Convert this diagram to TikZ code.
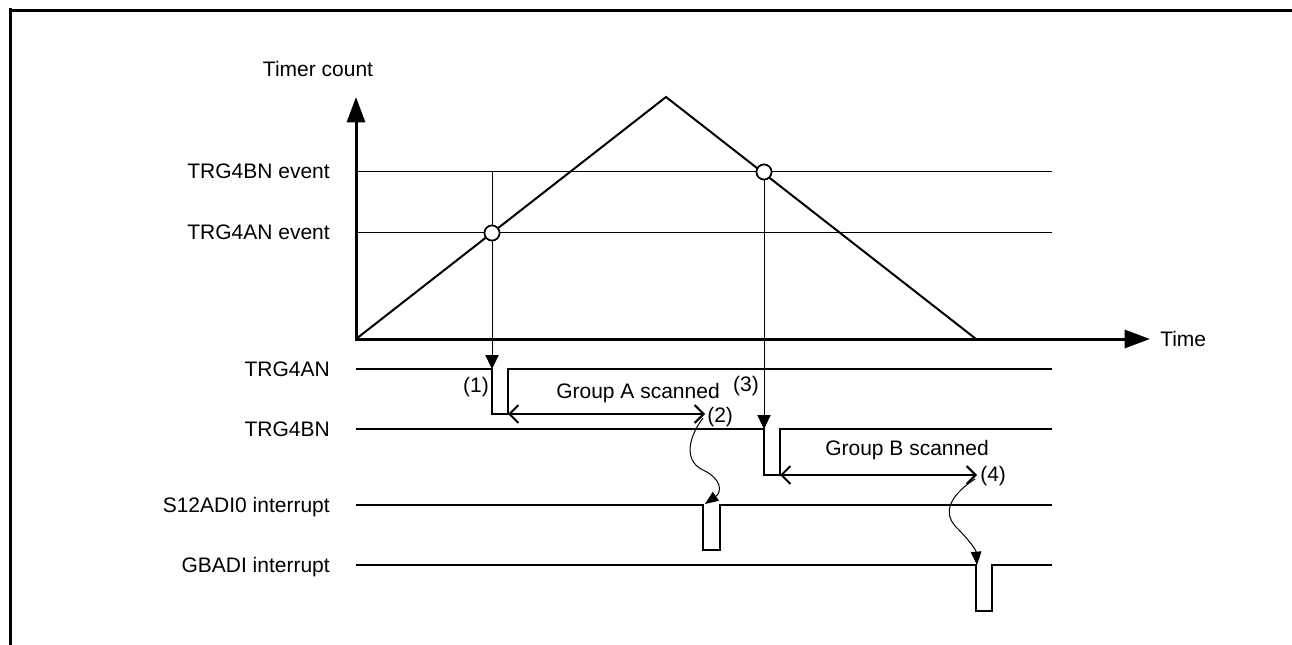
\documentclass[tikz,border=0pt]{standalone}
\usepackage{fontspec}
\setmainfont{Liberation Sans}
\usetikzlibrary{arrows.meta}
\begin{document}
\begin{tikzpicture}[x=0.75pt,y=-0.75pt,
  every node/.style={inner sep=0pt},
  txt/.style={font=\fontsize{15.75}{18}\selectfont},
  lbl/.style={txt,anchor=base east},
  frame/.style={line width=2.5pt},
  axis/.style={line width=2.25pt,{Triangle[length=19pt,width=13.5pt]}-{Triangle[length=19pt,width=13.5pt]}},
  tri/.style={line width=1.5pt},
  evt/.style={line width=0.75pt},
  sig/.style={line width=1.5pt},
  trig/.style={line width=0.75pt,-{Triangle[length=10.5pt,width=10pt]}},
  span/.style={line width=1.5pt,{Straight Barb[length=6.75pt,width=13.5pt]}-{Straight Barb[length=6.75pt,width=13.5pt]}},
  wave/.style={line width=0.75pt,-{Triangle[length=10pt,width=8pt]}},
  circ/.style={circle,draw,fill=white,line width=1.2pt,minimum size=11.25pt}
]
\useasboundingbox (0,0) rectangle (1292,645);
% frame
\draw[frame] (10.5,8) -- (10.5,645);
\draw[frame] (9,10.7) -- (1292,10.7);

% coordinates
\coordinate (O) at (356,339);
\coordinate (ytop) at (356,97);
\coordinate (xend) at (1150,339);
\coordinate (peak) at (666,97);
\coordinate (tend) at (976,339);

% event lines
\draw[evt] (356,172) -- (1052,172);
\draw[evt] (356,233) -- (1052,233);

% triangle and axes
\draw[tri] (O) -- (peak) -- (tend);
\draw[axis] (ytop) -- (O) -- (xend);

% labels
\node[txt,anchor=base] (tc) at (318,77) {Timer count};
\node[txt,anchor=base west] (time) at (1160,346.5) {Time};
\node[lbl] (lbn) at (330,179) {TRG4BN event};
\node[lbl] (lan) at (330,240) {TRG4AN event};
\node[lbl] (sa) at (330,376) {TRG4AN};
\node[lbl] (sb) at (330,436) {TRG4BN};
\node[lbl] (si) at (330,512) {S12ADI0 interrupt};
\node[lbl] (sg) at (330,572) {GBADI interrupt};

% trigger arrows
\coordinate (a0) at (492,172);
\coordinate (a1) at (492,369);
\coordinate (b1) at (764,429);
\node[circ] (ca) at (492,233) {};
\node[circ] (cb) at (764,172) {};
\draw[trig] (a0) -- (a1);
\draw[trig] (cb.center) -- (b1);
\node[circ] at (492,233) {};
\node[circ] at (764,172) {};

% signals
\draw[sig] (356,369) -- (a1) -- (492,414) -- (508,414) -- (508,369) -- (1052,369);
\draw[sig] (356,429) -- (b1) -- (764,475) -- (780,475) -- (780,429) -- (1052,429);
\draw[sig] (356,505) -- (703,505) -- (703,550) -- (720,550) -- (720,505) -- (1052,505);
\draw[sig] (356,565) -- (976,565) -- (976,611) -- (992,611) -- (992,565) -- (1052,565);

% scan spans
\coordinate (sA1) at (508,414);
\coordinate (sA2) at (705,414);
\coordinate (sB1) at (780,475);
\coordinate (sB2) at (977,475);
\draw[span] (sA1) -- (sA2);
\draw[span] (sB1) -- (sB2);
\node[txt,anchor=base] (ga) at (638,398) {Group A scanned};
\node[txt,anchor=base] (gb) at (907,455) {Group B scanned};

% numbers
\node[txt,anchor=base] (n1) at (476,392) {(1)};
\node[txt,anchor=base west] (n2) at (707,422) {(2)};
\node[txt,anchor=base] (n3) at (746,391) {(3)};
\node[txt,anchor=base west] (n4) at (980,481) {(4)};

% wavy arrows
\coordinate (w1s) at (703,418);
\coordinate (w1e) at (705,504);
\coordinate (w2s) at (975,479);
\coordinate (w2e) at (977,565);
\draw[wave] (w1s) .. controls (690,435) and (682,460) .. (703,470) .. controls (722,479) and (722,492) .. (w1e);
\draw[wave] (w2s) .. controls (955,492) and (940,510) .. (956,527) .. controls (970,541) and (976,550) .. (w2e);
\end{tikzpicture}
\end{document}
